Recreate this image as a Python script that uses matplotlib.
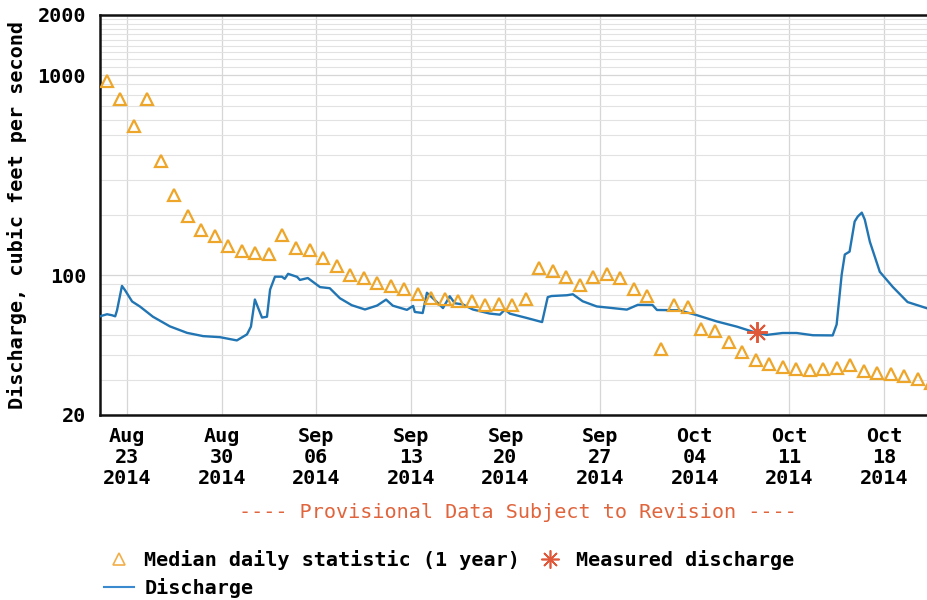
import matplotlib
matplotlib.use("Agg")
import matplotlib.pyplot as plt
from matplotlib.lines import Line2D
from matplotlib.font_manager import FontProperties
import pandas as pd

# ---------------- data ----------------
discharge_times = [
    "2014-08-21 00:00", "2014-08-21 12:30", "2014-08-21 21:00", "2014-08-22 03:00",
    "2014-08-22 06:15", "2014-08-22 15:00", "2014-08-22 20:30", "2014-08-23 09:00",
    "2014-08-23 23:00", "2014-08-24 22:00", "2014-08-26 04:00", "2014-08-27 10:30",
    "2014-08-28 15:00", "2014-08-29 21:00", "2014-08-31 03:00", "2014-08-31 21:00",
    "2014-09-01 04:00", "2014-09-01 11:00", "2014-09-01 16:30", "2014-09-01 23:40",
    "2014-09-02 08:30", "2014-09-02 14:00", "2014-09-02 22:40", "2014-09-03 11:00",
    "2014-09-03 16:00", "2014-09-03 22:00", "2014-09-04 14:00", "2014-09-04 19:00",
    "2014-09-05 09:00", "2014-09-06 06:40", "2014-09-07 00:00", "2014-09-07 18:00",
    "2014-09-08 15:00", "2014-09-09 14:30", "2014-09-10 12:00", "2014-09-11 04:00",
    "2014-09-11 16:00", "2014-09-12 17:00", "2014-09-13 04:00", "2014-09-13 07:00",
    "2014-09-13 21:00", "2014-09-14 04:30", "2014-09-14 20:30", "2014-09-15 09:00",
    "2014-09-15 21:00", "2014-09-16 06:00", "2014-09-16 20:00", "2014-09-17 14:00",
    "2014-09-18 20:00", "2014-09-19 14:00", "2014-09-19 23:00", "2014-09-20 08:00",
    "2014-09-21 14:00", "2014-09-22 17:00", "2014-09-23 03:00", "2014-09-23 10:00",
    "2014-09-24 13:00", "2014-09-24 23:40", "2014-09-25 17:00", "2014-09-26 18:00",
    "2014-09-28 23:30", "2014-09-29 19:00", "2014-09-30 21:00", "2014-10-01 05:00",
    "2014-10-02 20:00", "2014-10-04 04:00", "2014-10-05 15:30", "2014-10-07 03:00",
    "2014-10-08 07:00", "2014-10-09 08:00", "2014-10-10 12:00", "2014-10-11 13:00",
    "2014-10-12 18:00", "2014-10-14 05:00", "2014-10-14 12:00", "2014-10-14 21:00",
    "2014-10-15 02:30", "2014-10-15 11:00", "2014-10-15 20:00", "2014-10-16 01:30",
    "2014-10-16 08:40", "2014-10-16 14:00", "2014-10-16 23:00", "2014-10-17 16:40",
    "2014-10-18 15:40", "2014-10-19 18:00", "2014-10-21 04:00",
]
discharge_cfs = [
    62.3, 63.8, 63.1, 62.3,
    66.8, 88.4, 84.1, 73.9,
    69.7, 62.0, 55.5, 51.5,
    49.6, 49.0, 47.2, 50.6,
    55.3, 75.6, 69.0, 61.4,
    62.0, 84.7, 98.3, 98.3,
    95.9, 101.6, 98.1, 94.7,
    96.8, 87.2, 86.1, 76.7,
    70.8, 67.4, 70.5, 75.5,
    70.4, 67.1, 70.2, 65.5,
    64.7, 81.7, 74.2, 68.5,
    78.5, 72.4, 71.5, 67.4,
    64.3, 63.5, 67.3, 64.2,
    61.1, 58.3, 77.7, 78.7,
    79.4, 80.3, 74.1, 69.8,
    67.3, 71.1, 71.0, 67.0,
    66.8, 63.1, 58.7, 55.3,
    52.2, 50.3, 51.4, 51.4,
    50.1, 50.0, 56.7, 100.8,
    126.9, 131.2, 185.5, 196.5,
    205.5, 189.6, 147.0, 104.0,
    87.4, 73.4, 68.4,
]

median_dates = pd.date_range("2014-08-21 12:00", "2014-10-21 12:00", freq="D")
median_cfs = [
    933, 759, 556, 759, 372, 251, 197, 168, 157, 140, 132,      # Aug 21 - Aug 31
    129, 127, 158, 137, 134, 122, 111, 100, 97, 91, 88, 85,     # Sep 1 - Sep 12
    81, 77, 76, 74, 74, 71, 72, 71, 76, 109, 105, 98,           # Sep 13 - Sep 24
    89, 98, 101, 97, 85, 79,                                    # Sep 25 - Sep 30
    43, 71, 69, 54, 52.5, 46.6, 41.5, 37.8, 36.0, 34.7, 33.9,   # Oct 1 - Oct 11
    33.5, 33.9, 34.3, 35.7, 33.3, 32.5, 32.2, 31.3, 30.2, 29.0, # Oct 12 - Oct 21
]

measured_time = ["2014-10-08 14:00"]
measured_cfs = [52.2]

x_tick_dates = ["2014-08-23", "2014-08-30", "2014-09-06", "2014-09-13", "2014-09-20",
                "2014-09-27", "2014-10-04", "2014-10-11", "2014-10-18"]
x_tick_labels = ["Aug\n23\n2014", "Aug\n30\n2014", "Sep\n06\n2014", "Sep\n13\n2014",
                 "Sep\n20\n2014", "Sep\n27\n2014", "Oct\n04\n2014", "Oct\n11\n2014",
                 "Oct\n18\n2014"]
y_ticks = [20, 100, 1000, 2000]
y_tick_labels = ["20", "100", "1000", "2000"]
y_grid_minor = [30, 40, 50, 60, 70, 80, 90,
                200, 300, 400, 500, 600, 700, 800, 900,
                1100, 1200, 1300, 1400, 1500, 1600, 1700, 1800, 1900]

# ---------------- style ----------------
BLUE = "#2275b3"
GOLD = "#eea62a"
RED = "#e0583a"
PROV = "#e0643c"
mono_b = FontProperties(family="DejaVu Sans Mono", weight="bold", size=14.5)
mono = FontProperties(family="DejaVu Sans Mono", weight="normal", size=14.5)

W, H = 927, 600
fig = plt.figure(figsize=(W / 100, H / 100), dpi=100)
fig.patch.set_facecolor("white")
ax = fig.add_axes([100 / W, 1 - 415 / H, 838 / W, 400 / H])

ax.set_yscale("log")
ax.set_ylim(20, 2000)
ax.set_xlim(pd.Timestamp("2014-08-21"), pd.Timestamp("2014-10-22"))

# grid
ax.set_yticks(y_ticks)
ax.set_yticklabels(y_tick_labels, fontproperties=mono_b)
ax.set_yticks(y_grid_minor, minor=True)
ax.yaxis.set_minor_formatter(plt.NullFormatter())
ax.grid(True, which="major", axis="both", color="#d6d6d6", lw=0.9)
ax.grid(True, which="minor", axis="y", color="#e2e2e2", lw=0.8)
ax.set_axisbelow(True)

ax.set_xticks(pd.to_datetime(x_tick_dates), x_tick_labels)
for t in ax.get_xticklabels():
    t.set_fontproperties(mono_b)
    t.set_linespacing(1.1)

ax.tick_params(axis="both", which="both", length=0)
ax.tick_params(axis="x", pad=9)
ax.tick_params(axis="y", pad=10)

for s in ["left", "bottom", "top"]:
    ax.spines[s].set_linewidth(1.8)
    ax.spines[s].set_color("#111111")
ax.spines["right"].set_visible(False)

# data
ax.plot(pd.to_datetime(discharge_times), discharge_cfs, color=BLUE, lw=1.7,
        zorder=3, label="Discharge")
ax.plot(median_dates, median_cfs, ls="none", marker="^", ms=9, mfc="none",
        mec=GOLD, mew=1.6, zorder=4, label="Median daily statistic (1 year)")
ax.plot(pd.to_datetime(measured_time), measured_cfs, ls="none", marker=(8, 2, 0),
        ms=15, mec=RED, mew=1.4, zorder=5, label="Measured discharge")

ax.set_ylabel("Discharge, cubic feet per second", fontproperties=mono_b)
ax.yaxis.set_label_coords(-0.087, 0.5)

fig.text(518 / W, 1 - 513 / H, "---- Provisional Data Subject to Revision ----",
         ha="center", va="center", color=PROV, fontproperties=mono)

h_med = Line2D([], [], ls="none", marker="^", ms=8, mfc="none", mec="#f2ae48", mew=1.2)
h_dis = Line2D([], [], color="#3a8ad0", lw=1.5)
h_meas = Line2D([], [], ls="none", marker=(8, 2, 0), ms=13, mec=RED, mew=1.2)
fig.legend([h_med, h_dis, h_meas],
           ["Median daily statistic (1 year)", "Discharge", "Measured discharge"],
           ncol=2, loc="upper left", bbox_to_anchor=(104 / W, 1 - 550 / H),
           frameon=False, prop=mono_b, handlelength=1.5, handletextpad=0.5,
           columnspacing=0.75, labelspacing=0.4, borderpad=0, borderaxespad=0)

fig.savefig("out.png", dpi=100)
